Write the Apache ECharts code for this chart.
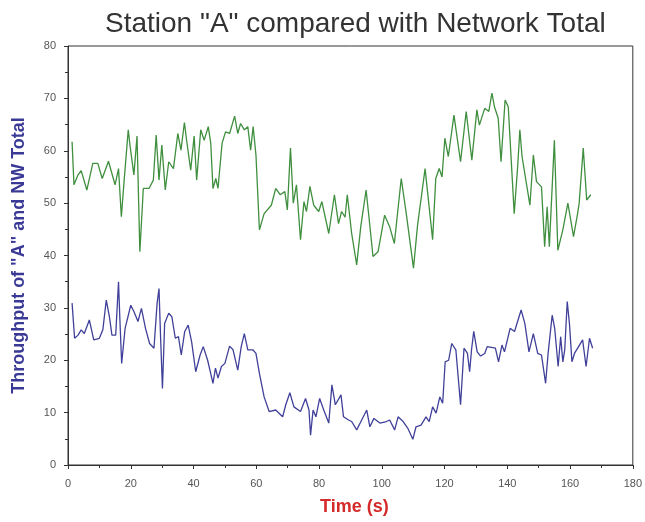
<!DOCTYPE html>
<html>
<head>
<meta charset="utf-8">
<script src="https://cdn.jsdelivr.net/npm/echarts@6/dist/echarts.min.js"></script>
<style>html,body{margin:0;padding:0;background:#fff;}#c{width:645px;height:522px;}</style>
</head>
<body>
<div id="c"></div>
<script>
// Network total (green) — time (s)
const greenT = [1.3,1.9,3.2,4.2,6.0,7.9,9.5,10.9,12.9,15.0,16.1,17.0,17.9,19.2,19.8,21.0,22.0,22.9,24.0,25.8,27.2,28.1,29.0,29.9,31.0,32.1,33.6,35.0,36.0,37.1,37.8,39.1,40.2,41.0,42.3,43.4,44.7,45.5,46.2,47.1,47.8,49.1,50.2,51.5,53.1,54.1,55.0,56.2,57.3,58.2,59.0,59.9,61.0,62.5,64.8,66.2,67.6,69.1,69.9,70.9,71.8,72.8,74.1,75.2,76.0,77.1,78.3,79.9,80.9,83.1,84.9,86.2,87.2,88.3,89.0,90.4,92.0,93.3,95.0,95.9,97.2,98.8,100.9,102.5,104.0,106.2,107.8,110.1,111.4,113.8,116.2,117.2,118.3,119.2,120.1,121.2,123.0,125.1,126.9,128.7,130.3,131.1,132.8,134.1,135.1,135.9,137.1,138.0,139.3,140.3,142.2,143.3,144.0,144.7,147.2,148.3,149.3,150.9,151.9,152.7,153.4,154.0,155.0,156.1,157.7,159.3,161.1,162.4,162.9,164.2,165.3,166.6];
const greenV = [61.7,53.5,55.4,56.2,52.5,57.6,57.6,54.7,58.0,53.5,56.6,47.4,54.4,64.0,60.8,55.4,62.8,40.7,52.8,52.8,54.4,63.0,54.4,61.1,52.5,57.9,56.6,63.3,60.1,65.4,62.0,56.3,62.8,54.4,64.0,62.0,64.6,61.4,52.8,54.7,52.8,61.4,63.6,63.3,66.6,63.3,65.2,64.0,64.6,60.1,64.6,59.2,44.9,48.0,49.6,52.8,51.6,52.2,48.7,60.5,50.0,53.5,43.0,50.3,48.4,53.2,49.6,48.4,50.3,44.2,51.6,46.1,48.4,47.3,51.6,44.2,38.2,45.5,52.5,47.4,39.8,40.7,47.7,45.5,42.3,54.7,48.0,37.6,45.8,56.6,43.0,54.7,56.6,55.0,62.4,58.9,66.8,57.9,67.5,58.2,67.8,64.9,68.1,67.5,71.0,68.4,66.2,57.9,69.7,68.4,48.0,57.0,64.0,58.9,49.6,59.2,54.1,53.1,41.7,49.3,41.7,42.0,62.0,41.0,44.9,50.0,43.6,48.0,50.0,60.5,50.6,51.6];
// Station "A" (blue)
const blueT = [1.3,2.1,3.2,4.2,5.2,6.8,8.2,10.0,11.1,12.2,13.2,14.0,15.2,16.1,16.5,17.1,18.2,20.0,21.0,22.3,23.4,24.7,26.0,27.4,28.4,29.0,29.5,30.1,30.8,32.1,33.1,34.2,35.2,36.1,37.2,38.3,39.4,40.7,42.1,43.1,44.5,46.2,47.0,47.8,48.9,50.0,51.5,52.6,54.1,55.2,56.2,57.3,58.9,59.9,61.0,62.5,64.1,66.2,68.4,69.4,70.7,72.0,74.1,75.7,76.8,77.3,78.1,79.0,80.2,81.5,83.1,84.1,85.2,87.0,87.8,89.4,90.4,92.0,93.6,95.2,96.2,97.5,99.4,101.5,102.5,104.1,105.2,106.8,108.3,109.9,110.9,112.5,114.1,115.1,116.2,117.3,118.5,119.4,120.2,121.3,122.3,123.6,125.1,126.2,127.3,128.0,128.6,129.3,130.4,131.5,132.8,133.6,136.2,137.2,138.3,139.1,140.9,142.3,144.4,145.6,146.9,148.3,149.7,150.9,152.2,153.0,154.3,155.1,156.2,157.0,157.7,158.3,159.1,159.8,160.6,161.4,163.0,164.0,165.1,166.2,167.2];
const blueV = [30.9,24.2,24.8,25.8,25.1,27.7,23.9,24.2,25.8,31.5,28.3,24.8,24.8,35.0,28.3,19.4,26.1,30.5,29.3,27.4,29.9,26.1,23.2,22.3,30.9,33.7,24.5,14.6,27.0,29.0,28.3,24.2,24.5,21.0,25.5,26.7,23.5,17.8,21.0,22.6,20.0,15.6,18.5,16.6,18.8,19.4,22.7,22.0,18.1,22.6,25.1,22.0,22.0,21.3,17.5,13.0,10.2,10.5,9.2,11.5,13.8,11.1,10.2,12.7,10.5,5.7,10.5,9.2,12.7,10.5,8.0,15.3,11.5,13.4,9.2,8.6,8.3,6.7,8.6,10.5,7.3,8.9,8.0,8.3,8.6,6.7,9.2,8.3,7.0,4.9,7.3,7.6,9.2,8.3,11.1,9.9,13.0,11.8,19.7,20.0,23.2,22.0,11.5,22.3,21.3,17.8,22.0,25.5,21.6,20.8,21.3,22.6,22.3,19.7,22.9,21.6,26.1,25.5,29.6,27.0,21.6,25.1,21.3,21.0,15.6,21.3,28.6,26.1,18.8,24.5,19.7,22.0,31.2,27.0,19.7,21.3,22.9,23.9,18.8,24.2,22.3];
const xTicks = [0,20,40,60,80,100,120,140,160,180];
const yTicks = [0,10,20,30,40,50,60,70,80];

const pair = (t, v) => t.map((x, i) => [x, v[i]]);
const chart = echarts.init(document.getElementById('c'), null, {renderer: 'canvas'});
const font = "'Liberation Sans', Arial, sans-serif";
chart.setOption({
  animation: false,
  backgroundColor: '#fff',
  title: {
    text: 'Station "A" compared with Network Total',
    left: 100, top: 5,
    textStyle: {fontFamily: font, fontSize: 28, fontWeight: 'normal', color: '#333'}
  },
  grid: {left: 68, right: 6, top: 46, bottom: 57, show: true, borderColor: '#333', borderWidth: 1},
  xAxis: {
    type: 'value', min: xTicks[0], max: xTicks[xTicks.length - 1], interval: 20,
    name: 'Time (s)', nameLocation: 'middle', nameGap: 33,
    nameTextStyle: {fontFamily: font, fontSize: 18, fontWeight: 'bold', color: '#d42a2a', padding: [0, 0, 0, 8]},
    axisLine: {lineStyle: {color: '#333', width: 1}},
    axisTick: {inside: false, length: 4, lineStyle: {color: '#333'}},
    minorTick: {show: true, splitNumber: 2, length: 3, lineStyle: {color: '#333'}},
    splitLine: {show: false},
    axisLabel: {fontFamily: font, fontSize: 11, color: '#555', margin: 13}
  },
  yAxis: {
    type: 'value', min: yTicks[0], max: yTicks[yTicks.length - 1], interval: 10,
    name: 'Throughput of "A" and NW Total', nameLocation: 'middle', nameGap: 40, nameRotate: 90,
    nameTextStyle: {fontFamily: font, fontSize: 18, fontWeight: 'bold', color: '#3a3a96'},
    axisLine: {show: true, lineStyle: {color: '#333', width: 1}},
    axisTick: {show: true, inside: false, length: 4, lineStyle: {color: '#333'}},
    minorTick: {show: true, splitNumber: 2, length: 3, lineStyle: {color: '#333'}},
    splitLine: {show: false},
    axisLabel: {fontFamily: font, fontSize: 11, color: '#555', margin: 12}
  },
  series: [
    {type: 'line', data: pair(greenT, greenV), showSymbol: false, lineStyle: {color: '#3f8f3f', width: 1.3}},
    {type: 'line', data: pair(blueT, blueV), showSymbol: false, lineStyle: {color: '#40409a', width: 1.3}}
  ]
});
</script>
</body>
</html>
